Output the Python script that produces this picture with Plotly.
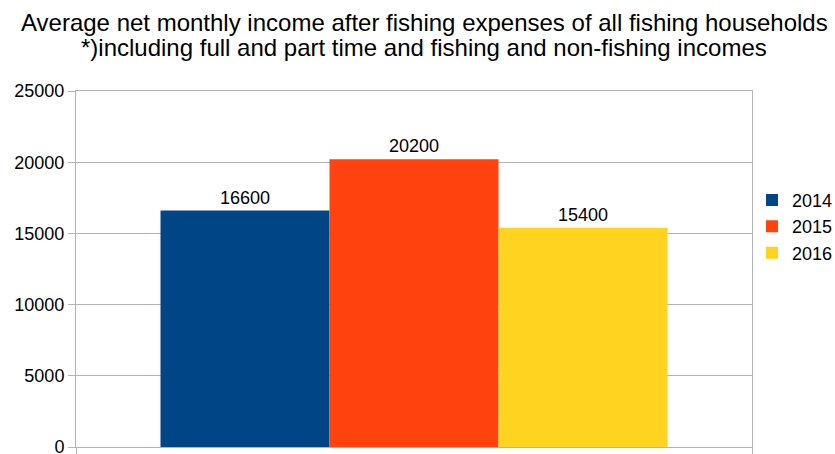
import plotly.graph_objects as go

# Chart data
category = ["All fishing households"]
years = ["2014", "2015", "2016"]
income = [16600, 20200, 15400]
colors = ["#004586", "#ff420e", "#ffd320"]

title_lines = [
    "Average net monthly income after fishing expenses of all fishing households",
    "*)including full and part time and fishing and non-fishing incomes",
]
y_ticks = [0, 5000, 10000, 15000, 20000, 25000]

FONT = "Liberation Sans, Arial, sans-serif"
GRID = "#b3b3b3"

fig = go.Figure()
for yr, val, col in zip(years, income, colors):
    fig.add_trace(go.Bar(
        name=yr,
        x=category,
        y=[val],
        marker=dict(color=col, line=dict(width=0)),
        text=[str(val)],
        textposition="outside",
        textfont=dict(family=FONT, size=18, color="#000000"),
        cliponaxis=False,
    ))

# Two-line heading, placed as annotations above the plot area
for line, ypos in zip(title_lines, [1.1938, 1.1208]):
    fig.add_annotation(
        text=line,
        xref="paper", yref="paper",
        x=0.5148, y=ypos,
        xanchor="center", yanchor="middle",
        showarrow=False,
        font=dict(family=FONT, size=24, color="#000000"),
    )

fig.update_layout(
    width=835,
    height=454,
    margin=dict(l=76, r=83, t=91, b=7, autoexpand=False),
    paper_bgcolor="white",
    plot_bgcolor="white",
    font=dict(family=FONT, size=18, color="#000000"),
    barmode="group",
    bargap=0.25,
    bargroupgap=0,
    legend=dict(
        xref="container",
        yref="container",
        x=752 / 835,
        y=1 - 226.7 / 454,
        xanchor="left",
        yanchor="middle",
        font=dict(family=FONT, size=18, color="#000000"),
        tracegroupgap=0,
        bgcolor="rgba(0,0,0,0)",
    ),
    xaxis=dict(
        type="category",
        showticklabels=False,
        tickson="boundaries",
        ticks="outside",
        ticklen=8,
        tickcolor=GRID,
        showline=True,
        linecolor=GRID,
        linewidth=1,
        mirror=True,
        showgrid=False,
        automargin=False,
    ),
    yaxis=dict(
        range=[0, 25000],
        tickvals=y_ticks,
        ticktext=[str(v) for v in y_ticks],
        ticks="outside",
        ticklen=7,
        tickcolor=GRID,
        showline=True,
        linecolor=GRID,
        linewidth=1,
        mirror=True,
        showgrid=True,
        gridcolor=GRID,
        gridwidth=1,
        zeroline=False,
        tickfont=dict(family=FONT, size=18, color="#000000"),
        ticklabeloverflow="allow",
        automargin=False,
    ),
)

fig.write_html("out.html")
